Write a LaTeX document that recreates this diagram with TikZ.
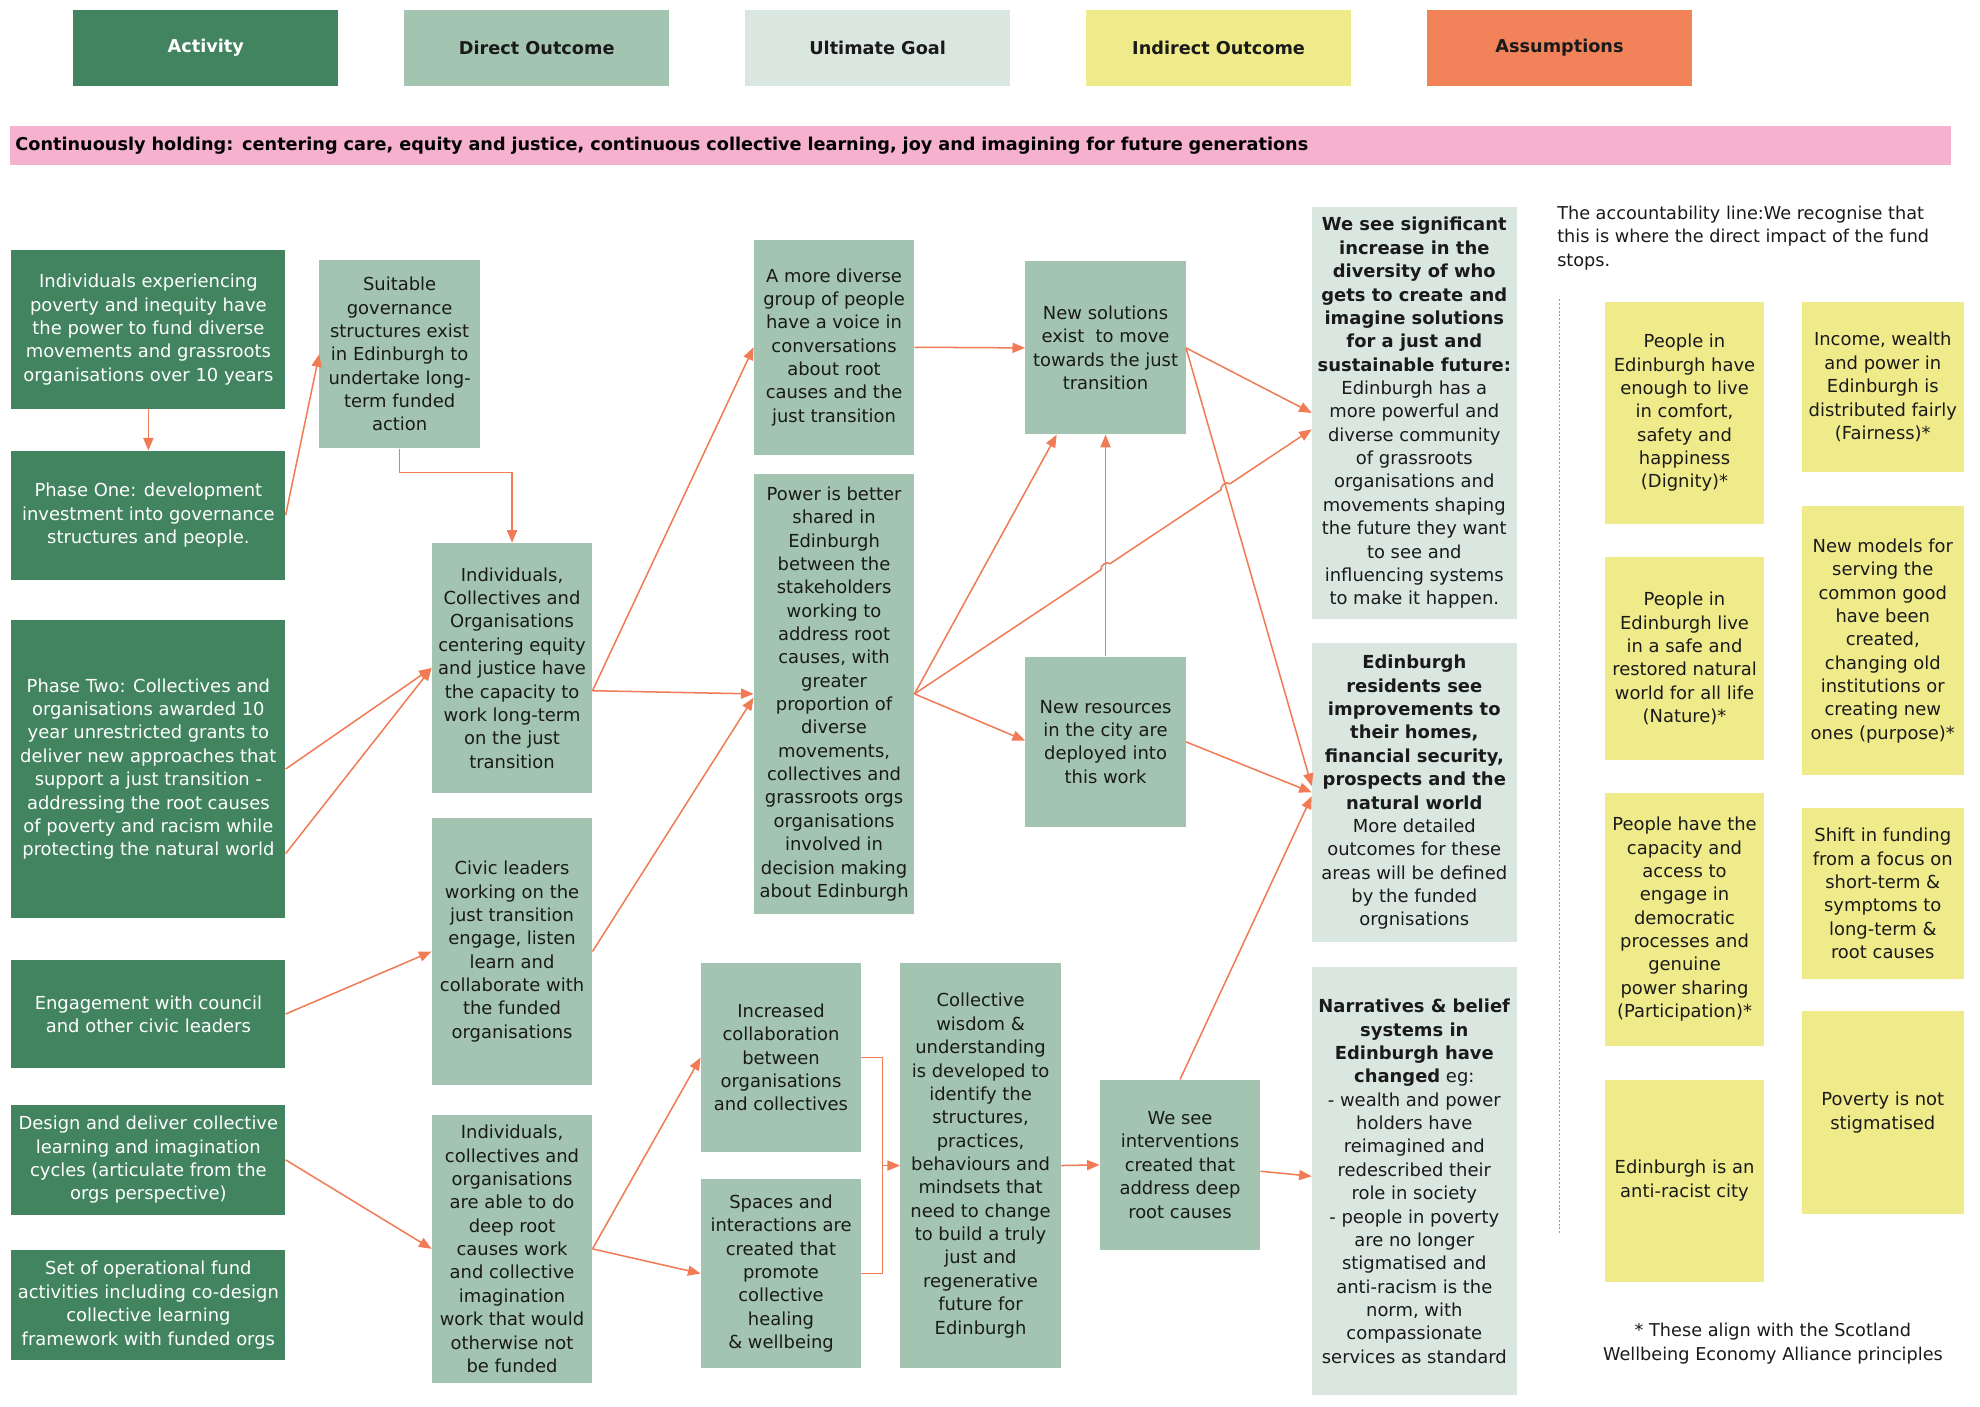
\documentclass[tikz,border=0pt]{standalone}
\usepackage{fontspec}
\setmainfont{DejaVu Sans}
\usetikzlibrary{arrows.meta,calc}
\definecolor{act}{HTML}{41845F}
\definecolor{dir}{HTML}{A2C4B1}
\definecolor{ult}{HTML}{DAE7E0}
\definecolor{ind}{HTML}{F0EB8A}
\definecolor{asm}{HTML}{F2825A}
\definecolor{pinkb}{HTML}{F5B1CE}
\definecolor{arr}{HTML}{F07B55}
\definecolor{txt}{HTML}{1A1A1A}
\tikzset{
  base/.style={inner sep=0pt, align=center, font=\fontsize{14.2}{18.5}\selectfont, text=txt},
  actbox/.style={base, fill=act, text=white},
  dirbox/.style={base, fill=dir},
  ultbox/.style={base, fill=ult},
  indbox/.style={base, fill=ind},
  legbox/.style={font=\fontsize{14}{17}\selectfont\bfseries},
  conn/.style={draw=arr, line width=1.2pt, -{Triangle[length=10pt,width=8pt]}},
  plainline/.style={draw=arr, line width=1.2pt},
}
\newcommand\mkbox[7]{\node[#6, minimum width={(#4-#2)*1pt}, minimum height={(#5-#3)*1pt}] (#1) at ({(#2+#4)/2},{(#3+#5)/2}) {#7};}
\begin{document}
\begin{tikzpicture}[x=1pt,y=-1pt]
\useasboundingbox[fill=white] (0,0) rectangle (1568,1114.2);
% legend
\mkbox{L1}{58}{8}{268}{68}{actbox,legbox}{Activity}
\mkbox{L2}{320}{8}{530}{68}{dirbox,legbox}{Direct Outcome}
\mkbox{L3}{590}{8}{800}{68}{ultbox,legbox}{Ultimate Goal}
\mkbox{L4}{860}{8}{1070}{68}{indbox,legbox}{Indirect Outcome}
\mkbox{L5}{1130}{8}{1340}{68}{base,fill=asm,legbox}{Assumptions}
% banner
\node[fill=pinkb, anchor=west, minimum height=31pt, text width=1529pt, inner xsep=4pt, inner ysep=0pt, align=left, text=black, font=\fontsize{14}{17}\selectfont\bfseries] (banner) at (8,115.5) {Continuously holding: centering care, equity and justice, continuous collective learning, joy and imagining for future generations};
% activities
\mkbox{A1}{9}{198}{226}{324}{actbox}{Individuals experiencing\\poverty and inequity have\\the power to fund diverse\\movements and grassroots\\organisations over 10 years}
\mkbox{A2}{9}{357}{226}{459}{actbox}{Phase One: development\\investment into governance\\structures and people.}
\mkbox{A3}{9}{491}{226}{727}{actbox}{Phase Two: Collectives and\\organisations awarded 10\\year unrestricted grants to\\deliver new approaches that\\support a just transition -\\addressing the root causes\\of poverty and racism while\\protecting the natural world}
\mkbox{A4}{9}{760}{226}{846}{actbox}{Engagement with council\\and other civic leaders}
\mkbox{A5}{9}{875}{226}{962}{actbox}{Design and deliver collective\\learning and imagination\\cycles (articulate from the\\orgs perspective)}
\mkbox{A6}{9}{990}{226}{1077}{actbox}{Set of operational fund\\activities including co-design\\collective learning\\framework with funded orgs}
% direct outcomes
\mkbox{G1}{253}{206}{380}{355}{dirbox}{Suitable\\governance\\structures exist\\in Edinburgh to\\undertake long-\\term funded\\action}
\mkbox{D1}{342}{430}{469}{628}{dirbox}{Individuals,\\Collectives and\\Organisations\\centering equity\\and justice have\\the capacity to\\work long-term\\on the just\\transition}
\mkbox{D2}{342}{648}{469}{859}{dirbox}{Civic leaders\\working on the\\just transition\\engage, listen\\learn and\\collaborate with\\the funded\\organisations}
\mkbox{D3}{342}{883}{469}{1095}{dirbox}{Individuals,\\collectives and\\organisations\\are able to do\\deep root\\causes work\\and collective\\imagination\\work that would\\otherwise not\\be funded}
\mkbox{D4}{597}{190}{724}{360}{dirbox}{A more diverse\\group of people\\have a voice in\\conversations\\about root\\causes and the\\just transition}
\mkbox{D5}{597}{375}{724}{724}{dirbox}{Power is better\\shared in\\Edinburgh\\between the\\stakeholders\\working to\\address root\\causes, with\\greater\\proportion of\\diverse\\movements,\\collectives and\\grassroots orgs\\organisations\\involved in\\decision making\\about Edinburgh}
\mkbox{D6}{555}{763}{682}{912}{dirbox}{Increased\\collaboration\\between\\organisations\\and collectives}
\mkbox{D7}{555}{934}{682}{1083}{dirbox}{Spaces and\\interactions are\\created that\\promote\\collective\\healing\\\& wellbeing}
\mkbox{D8}{713}{763}{840}{1083}{dirbox}{Collective\\wisdom \&\\understanding\\is developed to\\identify the\\structures,\\practices,\\behaviours and\\mindsets that\\need to change\\to build a truly\\just and\\regenerative\\future for\\Edinburgh}
\mkbox{D9}{812}{207}{939}{344}{dirbox}{New solutions\\exist~ to move\\towards the just\\transition}
\mkbox{D10}{812}{520}{939}{655}{dirbox}{New resources\\in the city are\\deployed into\\this work}
\mkbox{D11}{871}{855}{998}{990}{dirbox}{We see\\interventions\\created that\\address deep\\root causes}
% ultimate goals
\mkbox{U1}{1039}{164}{1201}{490}{ultbox}{\textbf{We see significant}\\\textbf{increase in the}\\\textbf{diversity of who}\\\textbf{gets to create and}\\\textbf{imagine solutions}\\\textbf{for a just and}\\\textbf{sustainable future:}\\Edinburgh has a\\more powerful and\\diverse community\\of grassroots\\organisations and\\movements shaping\\the future they want\\to see and\\influencing systems\\to make it happen.}
\mkbox{U2}{1039}{509}{1201}{746}{ultbox}{\textbf{Edinburgh}\\\textbf{residents see}\\\textbf{improvements to}\\\textbf{their homes,}\\\textbf{financial security,}\\\textbf{prospects and the}\\\textbf{natural world}\\More detailed\\outcomes for these\\areas will be defined\\by the funded\\orgnisations}
\mkbox{U3}{1039}{766}{1201}{1105}{ultbox}{\textbf{Narratives \& belief}\\\textbf{systems in}\\\textbf{Edinburgh have}\\\textbf{changed} eg:\\- wealth and power\\holders have\\reimagined and\\redescribed their\\role in society\\- people in poverty\\are no longer\\stigmatised and\\anti-racism is the\\norm, with\\compassionate\\services as standard}
% accountability
\node[anchor=north west, inner sep=0pt, align=left, text=txt, font=\fontsize{14}{18.5}\selectfont] (acc) at (1233,163) {The accountability line:We recognise that\\this is where the direct impact of the fund\\stops.};
\draw[arr, line width=1pt, dash pattern=on 1.5pt off 1.5pt] (1235,237) -- (1235,977);
% indirect outcomes
\mkbox{I1}{1271}{239}{1397}{415}{indbox}{People in\\Edinburgh have\\enough to live\\in comfort,\\safety and\\happiness\\(Dignity)*}
\mkbox{I2}{1271}{441}{1397}{602}{indbox}{People in\\Edinburgh live\\in a safe and\\restored natural\\world for all life\\(Nature)*}
\mkbox{I3}{1271}{628}{1397}{828}{indbox}{People have the\\capacity and\\access to\\engage in\\democratic\\processes and\\genuine\\power sharing\\(Participation)*}
\mkbox{I4}{1271}{855}{1397}{1015}{indbox}{Edinburgh is an\\anti-racist city}
\mkbox{I5}{1427}{239}{1555}{374}{indbox}{Income, wealth\\and power in\\Edinburgh is\\distributed fairly\\(Fairness)*}
\mkbox{I6}{1427}{401}{1555}{614}{indbox}{New models for\\serving the\\common good\\have been\\created,\\changing old\\institutions or\\creating new\\ones (purpose)*}
\mkbox{I7}{1427}{640}{1555}{775}{indbox}{Shift in funding\\from a focus on\\short-term \&\\symptoms to\\long-term \&\\root causes}
\mkbox{I8}{1427}{801}{1555}{961}{indbox}{Poverty is not\\stigmatised}
\node[inner sep=0pt, align=center, text=txt, font=\fontsize{14}{18.5}\selectfont] (foot) at (1404,1064) {* These align with the Scotland\\Wellbeing Economy Alliance principles};
% connectors
\draw[conn] (A1) -- (A2);
\draw[conn] (A2.east) -- (G1.west);
\draw[conn] (G1.south) -- ++(0,19) -| (D1.north);
\draw[conn] (A3.east) -- (D1.west);
\draw[conn] ($(A3.east)+(0,67)$) -- (D1.west);
\draw[conn] ($(D1.east)+(0,18)$) -- (D4.west);
\draw[conn] ($(D1.east)+(0,18)$) -- (D5.west);
\draw[conn] (D2.east) -- ($(D5.west)+(0,3)$);
\draw[conn] (A4.east) -- (D2.west);
\draw[conn] (A5.east) -- (D3.west);
\draw[conn] (D3.east) -- (D6.west);
\draw[conn] (D3.east) -- (D7.west);
\coordinate (J) at ($(D8.west)+(-14,0)$);
\draw[plainline] (D6.east) -| (J);
\draw[plainline] (D7.east) -| (J);
\draw[conn] (J) -- (D8.west);
\draw[conn] (D8.east) -- (D11.west);
\draw[conn] ($(D11.east)+(0,5)$) -- ($(U3.west)+(0,-4)$);
\draw[conn] (D11.north) -- ($(U2.west)+(0,3)$);
\draw[conn] (D4.east) -- (D9.west);
\draw[conn] (D5.east) -- ($(D9.south west)+(25,0)$);
\coordinate (T1) at ($(U1.west)+(0,13)$);
\draw[conn] (D5.east) -- ($(D5.east)!0.470!(T1)$) to[bend left=90] ($(D5.east)!0.492!(T1)$) -- ($(D5.east)!0.772!(T1)$) to[bend left=90] ($(D5.east)!0.794!(T1)$) -- (T1);
\draw[conn] (D5.east) -- ($(D10.west)+(0,-1)$);
\draw[conn] (D10.north) -- (D9.south);
\draw[conn] (D9.east) -- (U1.west);
\draw[conn] (D9.east) -- ($(U2.west)+(0,-5)$);
\draw[conn] (D10.east) -- (U2.west);
\end{tikzpicture}
\end{document}
